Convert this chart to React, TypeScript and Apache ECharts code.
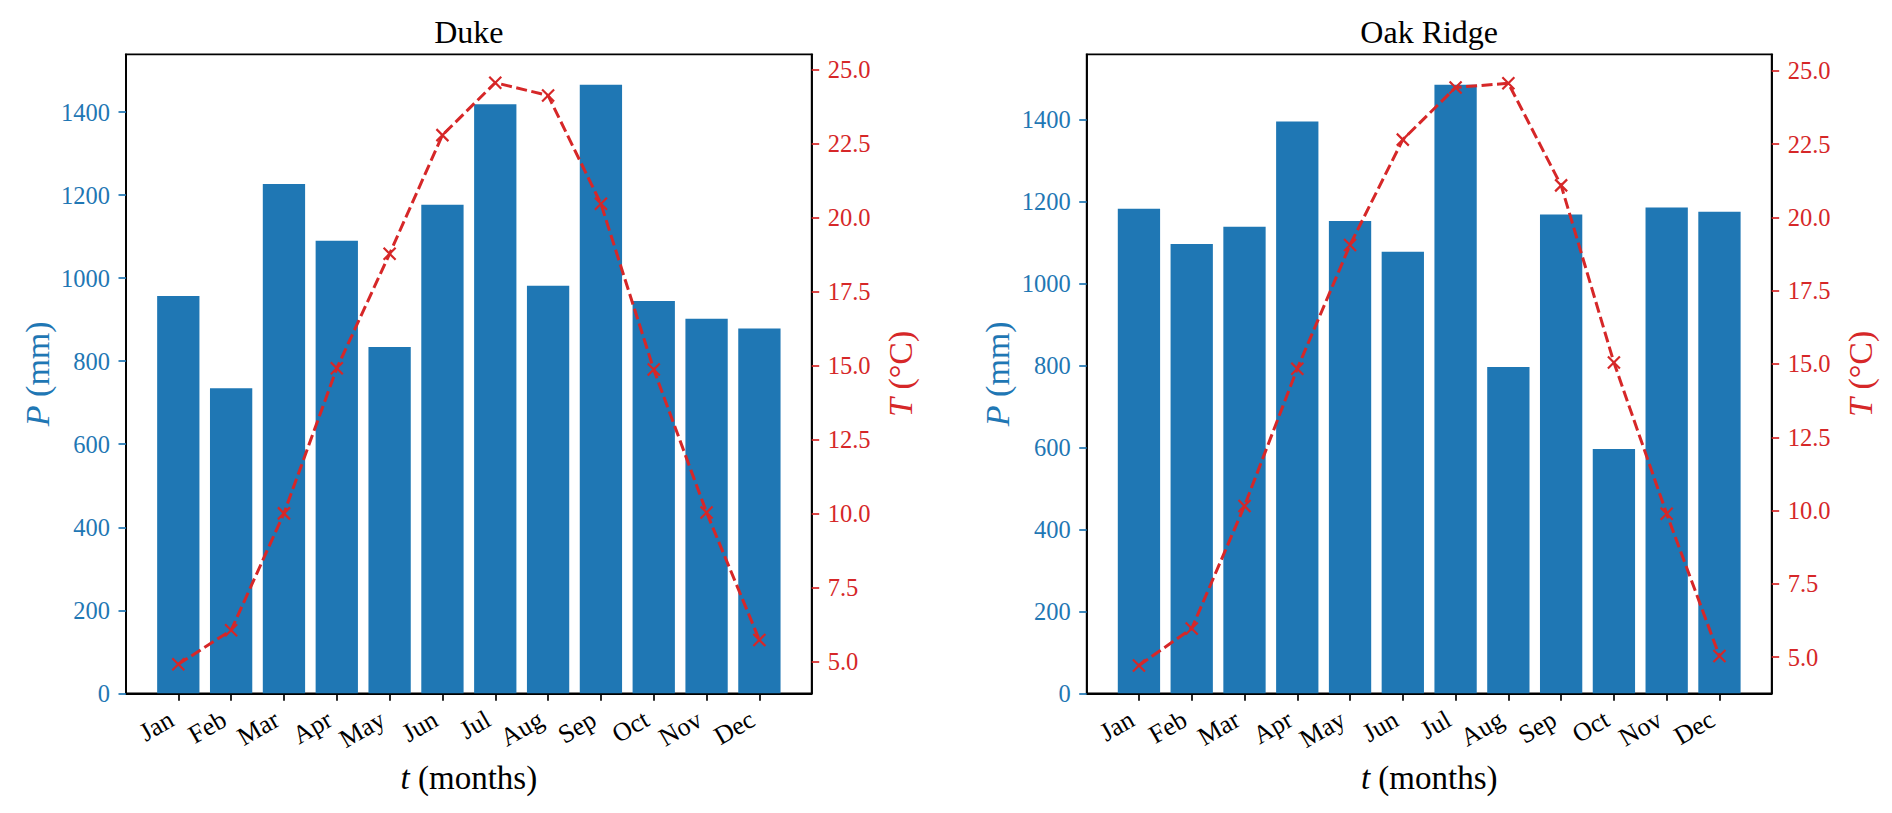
import React, { useEffect, useRef } from "react";
import * as echarts from "echarts";

const months = ["Jan", "Feb", "Mar", "Apr", "May", "Jun", "Jul", "Aug", "Sep", "Oct", "Nov", "Dec"];
const dukePrecip = [957, 735, 1227, 1090, 834, 1177, 1419, 982, 1466, 945, 902, 879];
const dukeTemp = [4.9, 6.05, 10.0, 14.9, 18.77, 22.78, 24.55, 24.12, 20.46, 14.86, 10.03, 5.72];
const oakPrecip = [1182, 1096, 1138, 1395, 1152, 1077, 1485, 796, 1168, 596, 1185, 1175];
const oakTemp = [4.72, 5.98, 10.16, 14.84, 19.06, 22.65, 24.43, 24.57, 21.09, 15.05, 9.89, 5.04];
const precipTicks = [0, 200, 400, 600, 800, 1000, 1200, 1400];
const tempTicks = [5, 7.5, 10, 12.5, 15, 17.5, 20, 22.5, 25];
const titles = ["Duke", "Oak Ridge"];

const FONT = "'Liberation Serif', 'Times New Roman', serif";
const BLUE = "#1f77b4";
const RED = "#d62728";
const SPINE = { show: true, onZero: false, lineStyle: { color: "#000", width: 1.8 } };

export default function App() {
  const ref = useRef<HTMLDivElement>(null);
  useEffect(() => {
    if (!ref.current) return;
    const chart = echarts.init(ref.current, undefined, { renderer: "svg" });
    const grids = [
      { left: 126, top: 54.3, width: 685.7, height: 639 },
      { left: 1086.7, top: 54.3, width: 685, height: 639 },
    ];
    const precipMax = [1539.3, 1559];
    const tempRange = [
      [3.92, 25.51],
      [3.77, 25.56],
    ];
    const precip = [dukePrecip, oakPrecip];
    const temp = [dukeTemp, oakTemp];
    const idx = months.map((_, i) => i);

    const xAxis: any[] = [];
    const yAxis: any[] = [];
    const series: any[] = [];
    const graphic: any[] = [];

    grids.forEach((g, k) => {
      xAxis.push({
        type: "value",
        gridIndex: k,
        min: -0.99,
        max: 11.99,
        splitLine: { show: false },
        axisLine: SPINE,
        axisTick: { show: true, length: 7.5, lineStyle: { color: "#000", width: 1.7 }, customValues: idx },
        axisLabel: {
          customValues: idx,
          rotate: 30,
          margin: 20,
          padding: [0, 8, 0, 0],
          fontFamily: FONT,
          fontSize: 26,
          color: "#000",
          formatter: (v: number) => months[Math.round(v)] ?? "",
        },
        name: "{i|t} (months)",
        nameLocation: "middle",
        nameGap: 68,
        nameTextStyle: {
          fontFamily: FONT,
          fontSize: 33,
          color: "#000",
          rich: { i: { fontStyle: "italic", fontFamily: FONT, fontSize: 33, color: "#000" } },
        },
      });
      yAxis.push({
        type: "value",
        gridIndex: k,
        position: "left",
        min: 0,
        max: precipMax[k],
        splitLine: { show: false },
        axisLine: SPINE,
        axisTick: { show: true, length: 7.5, lineStyle: { color: BLUE, width: 1.7 }, customValues: precipTicks },
        axisLabel: {
          customValues: precipTicks,
          margin: 16,
          fontFamily: FONT,
          fontSize: 24.5,
          color: BLUE,
          formatter: (v: number) => String(Math.round(v)),
        },
        name: "{i|P} (mm)",
        nameLocation: "middle",
        nameRotate: 90,
        nameGap: 72,
        nameTextStyle: {
          fontFamily: FONT,
          fontSize: 34,
          color: BLUE,
          rich: { i: { fontStyle: "italic", fontFamily: FONT, fontSize: 34, color: BLUE } },
        },
      });
      yAxis.push({
        type: "value",
        gridIndex: k,
        position: "right",
        min: tempRange[k][0],
        max: tempRange[k][1],
        splitLine: { show: false },
        axisLine: SPINE,
        axisTick: { show: true, length: 7.5, lineStyle: { color: RED, width: 1.7 }, customValues: tempTicks },
        axisLabel: {
          customValues: tempTicks,
          margin: 16,
          fontFamily: FONT,
          fontSize: 24.5,
          color: RED,
          formatter: (v: number) => v.toFixed(1),
        },
        name: "{i|T} (°C)",
        nameLocation: "middle",
        nameRotate: 90,
        nameGap: 72,
        nameTextStyle: {
          fontFamily: FONT,
          fontSize: 34,
          color: RED,
          rich: { i: { fontStyle: "italic", fontFamily: FONT, fontSize: 34, color: RED } },
        },
      });
      series.push({
        type: "bar",
        xAxisIndex: k,
        yAxisIndex: 2 * k,
        data: precip[k].map((v, i) => [i, v]),
        barWidth: 42.3,
        itemStyle: { color: BLUE },
        z: 2,
      });
      series.push({
        type: "line",
        xAxisIndex: k,
        yAxisIndex: 2 * k + 1,
        data: temp[k].map((v, i) => [i, v]),
        color: RED,
        lineStyle: { color: RED, width: 3, type: [11, 4.5] },
        symbol: "path://M0 0L10 10M10 0L0 10",
        symbolSize: 12,
        showSymbol: true,
        itemStyle: { color: RED, borderColor: RED, borderWidth: 2.2 },
        z: 3,
      });
      graphic.push({
        type: "text",
        x: g.left + g.width / 2,
        y: 48,
        style: {
          text: titles[k],
          font: `32px ${FONT}`,
          fill: "#000",
          textAlign: "center",
          textVerticalAlign: "bottom",
        },
      });
    });

    chart.setOption({
      animation: false,
      backgroundColor: "#fff",
      grid: grids.map((g) => ({ ...g, show: true, borderColor: "#000", borderWidth: 1.8, backgroundColor: "transparent" })),
      xAxis,
      yAxis,
      series,
      graphic,
    });
    return () => chart.dispose();
  }, []);
  return (
    <div
      ref={ref}
      style={{ position: "fixed", left: 0, top: 0, width: 1892, height: 813, background: "#fff" }}
    />
  );
}
